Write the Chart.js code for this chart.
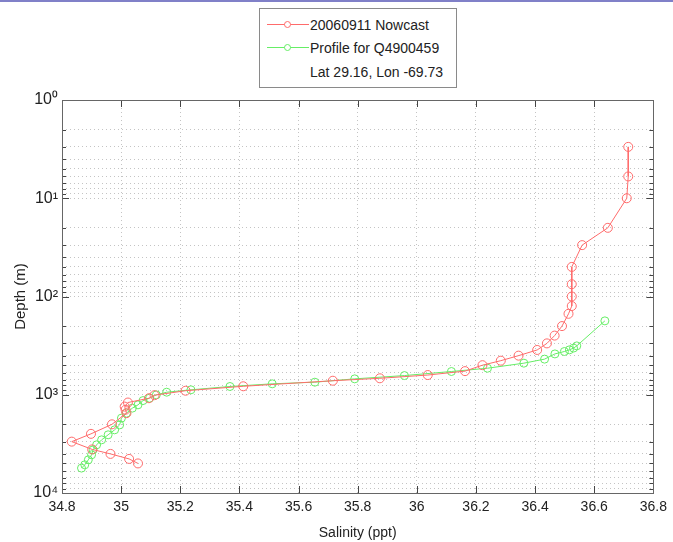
<!DOCTYPE html>
<html lang="en">
<head>
<meta charset="UTF-8">
<title>Salinity profile</title>
<script src="https://cdn.jsdelivr.net/npm/chart.js@4.4.1/dist/chart.umd.min.js"></script>
<style>
  html, body { margin: 0; padding: 0; background: #fff; }
  #wrap { position: relative; width: 673px; height: 542px; overflow: hidden; font-family: "Liberation Sans", Arial, sans-serif; }
  #topbar { position: absolute; left: 0; top: 0; width: 673px; height: 2px; background: #8080c8; }
  #legend { position: absolute; left: 259px; top: 8px; width: 198px; height: 80px; border: 1px solid #8a8a8a; background: #fff; box-sizing: border-box; font-size: 14px; color: #222; }
  .row { position: absolute; left: 0; width: 100%; height: 20px; line-height: 20px; white-space: nowrap; }
  .sample { position: absolute; left: 7px; top: 9px; width: 42px; height: 1px; }
  .mark { position: absolute; left: 24px; top: 6px; width: 7px; height: 7px; border-radius: 50%; border: 1px solid; box-sizing: border-box; background: #fff; }
  .txt { position: absolute; left: 50px; top: 0; }
</style>
</head>
<body>
<div id="wrap">
  <canvas id="chart" width="673" height="542"></canvas>
  <div id="topbar"></div>
  <div id="legend">
    <div class="row" style="top:6px"><span class="sample" style="background:#ff6b6b"></span><span class="mark" style="border-color:#ff6b6b"></span><span class="txt">20060911 Nowcast</span></div>
    <div class="row" style="top:29px"><span class="sample" style="background:#66ee66"></span><span class="mark" style="border-color:#66ee66"></span><span class="txt">Profile for Q4900459</span></div>
    <div class="row" style="top:53px"><span class="txt">Lat 29.16, Lon -69.73</span></div>
  </div>
</div>

<script>
// datos (salinidad en ppt, profundidad en m)
const nowcastDepth = [3, 6, 10, 20, 30, 50, 75, 100, 125, 150, 200, 250, 300, 350, 400, 450, 500, 575, 630, 680, 720, 820, 910, 1010, 1085, 1200, 1320, 1420, 1540, 2000, 2500, 3000, 3600, 4000, 4500, 5000];
const nowcastSalinity = [36.715, 36.715, 36.71, 36.646, 36.559, 36.524, 36.524, 36.524, 36.524, 36.513, 36.491, 36.466, 36.44, 36.407, 36.344, 36.284, 36.222, 36.163, 36.037, 35.875, 35.716, 35.413, 35.218, 35.113, 35.094, 35.023, 35.012, 35.015, 35.018, 34.969, 34.898, 34.833, 34.902, 34.964, 35.027, 35.057];

const profileDepth = [177, 318, 335, 349, 363, 384, 434, 477, 537, 580, 638, 689, 745, 774, 824, 891, 942, 1003, 1084, 1146, 1267, 1368, 1539, 1730, 2025, 2276, 2557, 2877, 3235, 3640, 4085, 4595, 5165, 5580];
const profileSalinity = [36.636, 36.541, 36.53, 36.516, 36.499, 36.467, 36.432, 36.362, 36.239, 36.117, 35.958, 35.79, 35.655, 35.511, 35.368, 35.236, 35.154, 35.119, 35.096, 35.074, 35.057, 35.038, 35.018, 35.001, 34.995, 34.978, 34.956, 34.934, 34.917, 34.905, 34.9, 34.889, 34.877, 34.866];

// ejes
const salinityMin = 34.8, salinityMax = 36.8, salinityStep = 0.2;
const depthDecades = [1, 10, 100, 1000, 10000];
const superscripts = ['\u2070', '\u00b9', '\u00b2', '\u00b3', '\u2074'];

// marcas del eje log: 1..9 en cada decada
const depthTicks = [];
depthDecades.forEach((d, i) => {
    if (i === depthDecades.length - 1) { depthTicks.push(d); return; }
    for (let k = 1; k < 10; k++) depthTicks.push(d * k);
});

const RED = '#ff6b6b';
const GREEN = '#66ee66';

// marcas hacia dentro y caja completa, al estilo matlab
const boxTicks = {
    id: 'boxTicks',
    afterDatasetsDraw(chart) {
        const { ctx, chartArea: a, scales } = chart;
        ctx.save();
        ctx.strokeStyle = '#444';
        ctx.lineWidth = 1;
        ctx.beginPath();
        scales.y.ticks.forEach(t => {
            const y = Math.round(scales.y.getPixelForValue(t.value)) + 0.5;
            const len = depthDecades.includes(t.value) ? 7 : 4;
            ctx.moveTo(a.left, y); ctx.lineTo(a.left + len, y);
            ctx.moveTo(a.right, y); ctx.lineTo(a.right - len, y);
        });
        scales.x.ticks.forEach(t => {
            const x = Math.round(scales.x.getPixelForValue(t.value)) + 0.5;
            ctx.moveTo(x, a.bottom); ctx.lineTo(x, a.bottom - 7);
            ctx.moveTo(x, a.top); ctx.lineTo(x, a.top + 7);
        });
        ctx.stroke();
        ctx.strokeStyle = '#666';
        ctx.strokeRect(Math.round(a.left) + 0.5, Math.round(a.top) + 0.5, Math.round(a.right - a.left), Math.round(a.bottom - a.top));
        ctx.restore();
    }
};

const toPoints = (sal, dep) => sal.map((s, i) => ({ x: s, y: dep[i] }));

const ctx = document.getElementById('chart').getContext('2d');
const chart = new Chart(ctx, {
    type: 'line',
    data: {
        datasets: [{
            label: '20060911 Nowcast',
            data: toPoints(nowcastSalinity, nowcastDepth),
            borderColor: RED,
            borderWidth: 1,
            pointStyle: 'circle',
            pointRadius: 4.5,
            pointBorderWidth: 1,
            pointBorderColor: RED,
            pointBackgroundColor: 'rgba(0,0,0,0)',
            fill: false,
            tension: 0
        },
        {
            label: 'Profile for Q4900459',
            data: toPoints(profileSalinity, profileDepth),
            borderColor: GREEN,
            borderWidth: 1,
            pointStyle: 'circle',
            pointRadius: 4,
            pointBorderWidth: 1,
            pointBorderColor: GREEN,
            pointBackgroundColor: 'rgba(0,0,0,0)',
            fill: false,
            tension: 0
        }]
    },
    options: {
        responsive: false,
        animation: false,
        layout: { padding: { left: 12, top: 100, right: 17, bottom: 0 } },
        plugins: { legend: { display: false }, tooltip: { enabled: false } },
        scales: {
            x: {
                type: 'linear',
                min: salinityMin,
                max: salinityMax,
                afterFit: s => { s.height = 49; },
                ticks: {
                    stepSize: salinityStep,
                    color: '#222',
                    font: { family: 'Liberation Sans, Arial', size: 14 },
                    padding: 6,
                    callback: v => String(+v.toFixed(1))
                },
                grid: { color: '#c4c4c4', drawTicks: false },
                border: { display: false, dash: [1, 3] },
                title: {
                    display: true,
                    text: 'Salinity (ppt)',
                    color: '#222',
                    font: { family: 'Liberation Sans, Arial', size: 14 },
                    padding: { top: 2, bottom: 0 }
                }
            },
            y: {
                type: 'logarithmic',
                reverse: true,
                min: 1,
                max: 10000,
                afterFit: s => { s.width = 50; },
                afterBuildTicks: s => {
                    s.ticks = depthTicks.map(v => ({ value: v, major: depthDecades.includes(v) }));
                },
                ticks: {
                    autoSkip: false,
                    color: '#222',
                    font: { family: 'Liberation Sans, Arial', size: 16 },
                    padding: 4,
                    callback: v => {
                        const i = depthDecades.indexOf(v);
                        return i < 0 ? '' : '10' + superscripts[i];
                    }
                },
                grid: { color: '#c4c4c4', drawTicks: false },
                border: { display: false, dash: [1, 3] },
                title: {
                    display: true,
                    text: 'Depth (m)',
                    color: '#222',
                    font: { family: 'Liberation Sans, Arial', size: 15 },
                    padding: { top: 0, bottom: 0 }
                }
            }
        }
    },
    plugins: [boxTicks]
});
</script>
</body>
</html>
